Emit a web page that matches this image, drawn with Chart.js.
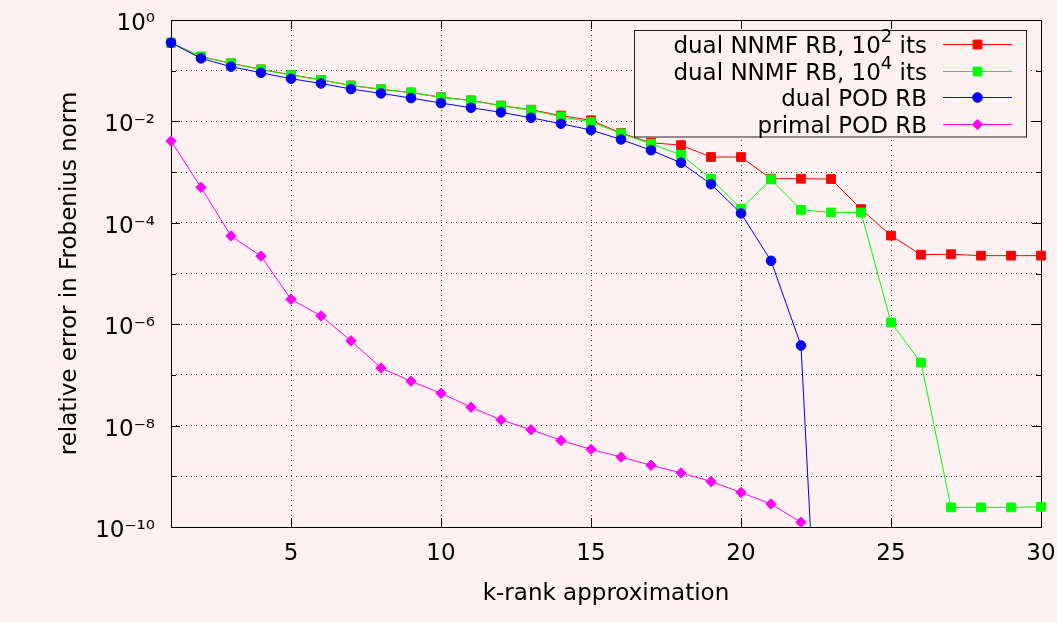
<!DOCTYPE html>
<html><head><meta charset="utf-8">
<script src="https://cdn.jsdelivr.net/npm/chart.js@4/dist/chart.umd.min.js"></script>
<style>html,body{margin:0;padding:0;background:#fdf1f1;overflow:hidden}#wrap{width:1057px;height:622px;position:relative}</style>
</head><body><div id="wrap"><canvas id="c"></canvas></div>
<script>
// ---- data ----
const kRanks = [1,2,3,4,5,6,7,8,9,10,11,12,13,14,15,16,17,18,19,20,21,22,23,24,25,26,27,28,29,30];
const nnmf100 = [0.356,0.19,0.14,0.106,0.083,0.066,0.051,0.043,0.037,0.030,0.026,0.0205,0.017,0.013,0.0105,0.0059,0.0038,0.0034,0.00198,0.00198,7.4e-4,7.4e-4,7.3e-4,1.86e-4,5.6e-5,2.35e-5,2.4e-5,2.25e-5,2.25e-5,2.25e-5];
const nnmf10000 = [0.356,0.189,0.14,0.106,0.082,0.066,0.051,0.043,0.0373,0.0298,0.0257,0.0204,0.0167,0.0124,0.0097,0.0058,0.0036,0.0022,7.4e-4,1.9e-4,7.2e-4,1.8e-4,1.6e-4,1.6e-4,1.08e-6,1.75e-7,2.44e-10,2.44e-10,2.44e-10,2.5e-10];
const dualPOD = [0.356,0.175,0.12,0.091,0.0695,0.056,0.0435,0.0357,0.0289,0.023,0.0186,0.0151,0.0118,0.009,0.00675,0.0044,0.0027,0.00153,5.8e-4,1.53e-4,1.78e-5,3.8e-7,1.2e-18];
const primalPOD = [4.1e-3,5.0e-4,5.5e-5,2.2e-5,3.1e-6,1.46e-6,4.7e-7,1.37e-7,7.5e-8,4.35e-8,2.3e-8,1.3e-8,8.3e-9,5.1e-9,3.4e-9,2.4e-9,1.65e-9,1.17e-9,7.9e-10,4.8e-10,2.85e-10,1.24e-10];
const seriesLabels = ['dual NNMF RB, 10^2 its','dual NNMF RB, 10^4 its','dual POD RB','primal POD RB'];
const xTickValues = [5,10,15,20,25,30];
const yTickExponents = [-10,-9,-8,-7,-6,-5,-4,-3,-2,-1,0];

const BG = '#fdf1f1';
const FONT = '"DejaVu Sans", sans-serif';
const SUP = {'0':'\u2070','1':'\u00b9','2':'\u00b2','3':'\u00b3','4':'\u2074','5':'\u2075','6':'\u2076','7':'\u2077','8':'\u2078','9':'\u2079','-':'\u207b'};
const sup = n => String(n).split('').map(c => SUP[c]).join('');
const pts = vals => vals.map((v, i) => ({x: kRanks[i], y: v}));

const styles = [
  {color:'#ff0000', pointStyle:'rect', r:6.2, order:4},
  {color:'#00ff00', pointStyle:'rect', r:6.2, order:3},
  {color:'#0000ff', pointStyle:'circle', r:4.8, order:2},
  {color:'#ff00ff', pointStyle:'rectRot', r:5.2, order:1}
];
const seriesValues = [nnmf100, nnmf10000, dualPOD, primalPOD];
const datasets = seriesValues.map((vals, i) => ({
  label: seriesLabels[i],
  data: pts(vals),
  borderColor: styles[i].color,
  backgroundColor: styles[i].color,
  borderWidth: 1,
  pointStyle: styles[i].pointStyle,
  pointRadius: styles[i].r,
  pointBorderWidth: 1,
  pointBorderColor: styles[i].color,
  pointBackgroundColor: styles[i].color,
  order: styles[i].order,
  tension: 0,
  clip: {left: 10, right: 10, top: 10, bottom: 0}
}));

function drawRich(ctx, text, xRight, y, size) {
  const parts = [];
  const re = /\^(-?\d+)/g; let last = 0, m;
  while ((m = re.exec(text))) { parts.push({t: text.slice(last, m.index), s: false}); parts.push({t: m[1], s: true}); last = re.lastIndex; }
  parts.push({t: text.slice(last), s: false});
  const fBase = size + 'px ' + FONT, fSup = Math.round(size * 0.78) + 'px ' + FONT;
  let w = 0;
  parts.forEach(p => { ctx.font = p.s ? fSup : fBase; p.w = ctx.measureText(p.t).width; w += p.w; });
  let x = xRight - w;
  ctx.textAlign = 'left'; ctx.textBaseline = 'middle';
  parts.forEach(p => { ctx.font = p.s ? fSup : fBase; ctx.fillText(p.t, x, p.s ? y - size * 0.42 : y); x += p.w; });
}

const bgPlugin = {
  id: 'bg',
  beforeDraw(chart) { const c = chart.ctx; c.save(); c.fillStyle = BG; c.fillRect(0, 0, chart.width, chart.height); c.restore(); }
};
const framePlugin = {
  id: 'frame',
  beforeDatasetsDraw(chart) {
    const {ctx, chartArea: a, scales: {x, y}} = chart;
    ctx.save();
    ctx.strokeStyle = '#000'; ctx.lineWidth = 1;
    ctx.beginPath();
    yTickExponents.forEach(e => {
      const py = Math.round(y.getPixelForValue(Math.pow(10, e))) + 0.5;
      const len = (e % 2 === 0) ? 9 : 5;
      ctx.moveTo(a.left, py); ctx.lineTo(a.left + len, py);
      ctx.moveTo(a.right, py); ctx.lineTo(a.right - len, py);
    });
    xTickValues.forEach(v => {
      const px = Math.round(x.getPixelForValue(v)) + 0.5;
      ctx.moveTo(px, a.bottom); ctx.lineTo(px, a.bottom - 9);
      ctx.moveTo(px, a.top); ctx.lineTo(px, a.top + 9);
    });
    ctx.stroke();
    ctx.strokeRect(Math.round(a.left) + 0.5, Math.round(a.top) + 0.5, Math.round(a.right - a.left), Math.round(a.bottom - a.top));
    ctx.restore();
  }
};
const legendPlugin = {
  id: 'gpLegend',
  afterDatasetsDraw(chart) {
    const ctx = chart.ctx;
    const box = {l: 634.5, t: 30.5, w: 392, h: 106.5};
    ctx.save();
    ctx.fillStyle = BG; ctx.fillRect(box.l, box.t, box.w, box.h);
    ctx.strokeStyle = '#222'; ctx.lineWidth = 1; ctx.strokeRect(box.l, box.t, box.w, box.h);
    chart.data.datasets.forEach((ds, i) => {
      const ry = 44 + i * 26.67;
      ctx.fillStyle = '#000';
      drawRich(ctx, ds.label, 927, ry + 3, 23);
      ctx.strokeStyle = ds.borderColor; ctx.lineWidth = 1;
      ctx.beginPath(); ctx.moveTo(943, Math.round(ry) + 0.5); ctx.lineTo(1012, Math.round(ry) + 0.5); ctx.stroke();
      ctx.fillStyle = ds.pointBackgroundColor; ctx.strokeStyle = ds.pointBorderColor;
      Chart.helpers.drawPoint(ctx, {pointStyle: ds.pointStyle, radius: ds.pointRadius, borderWidth: 1, rotation: 0}, 977.5, Math.round(ry) + 0.5);
    });
    ctx.restore();
  }
};

new Chart(document.getElementById('c'), {
  type: 'line',
  data: {datasets},
  options: {
    responsive: true, maintainAspectRatio: false, animation: false,
    layout: {padding: {left: 0, right: 16, top: 20, bottom: 0}},
    plugins: {legend: {display: false}, tooltip: {enabled: false}},
    elements: {line: {tension: 0}},
    scales: {
      x: {
        type: 'linear', min: 1, max: 30,
        afterBuildTicks: s => { s.ticks = xTickValues.map(v => ({value: v})); },
        afterFit: s => { s.height = 95; s.paddingLeft = 0; s.paddingRight = 0; },
        ticks: {autoSkip: false, maxRotation: 0, padding: 13, color: '#000', font: {family: FONT, size: 23}, callback: v => String(v)},
        grid: {color: '#333', lineWidth: 1, drawTicks: false},
        border: {display: false, dash: [1, 4]},
        title: {display: true, text: 'k-rank approximation', color: '#000', font: {family: FONT, size: 23}, padding: {top: 0, bottom: 14}}
      },
      y: {
        type: 'logarithmic', min: 1e-10, max: 1,
        afterBuildTicks: s => { s.ticks = yTickExponents.map(e => ({value: Math.pow(10, e)})); },
        afterFit: s => { s.width = 171; s.paddingTop = 0; s.paddingBottom = 0; },
        ticks: {autoSkip: false, padding: 16, labelOffset: 4, color: '#000', font: {family: FONT, size: 23},
          callback: v => { const e = Math.round(Math.log10(v)); return (e % 2 === 0) ? '10' + sup(e) : ''; }},
        grid: {color: '#333', lineWidth: 1, drawTicks: false},
        border: {display: false, dash: [1, 4]},
        title: {display: true, text: 'relative error in Frobenius norm', color: '#000', font: {family: FONT, size: 23}, padding: {top: 56, bottom: 0}}
      }
    }
  },
  plugins: [bgPlugin, framePlugin, legendPlugin]
});
</script></body></html>
